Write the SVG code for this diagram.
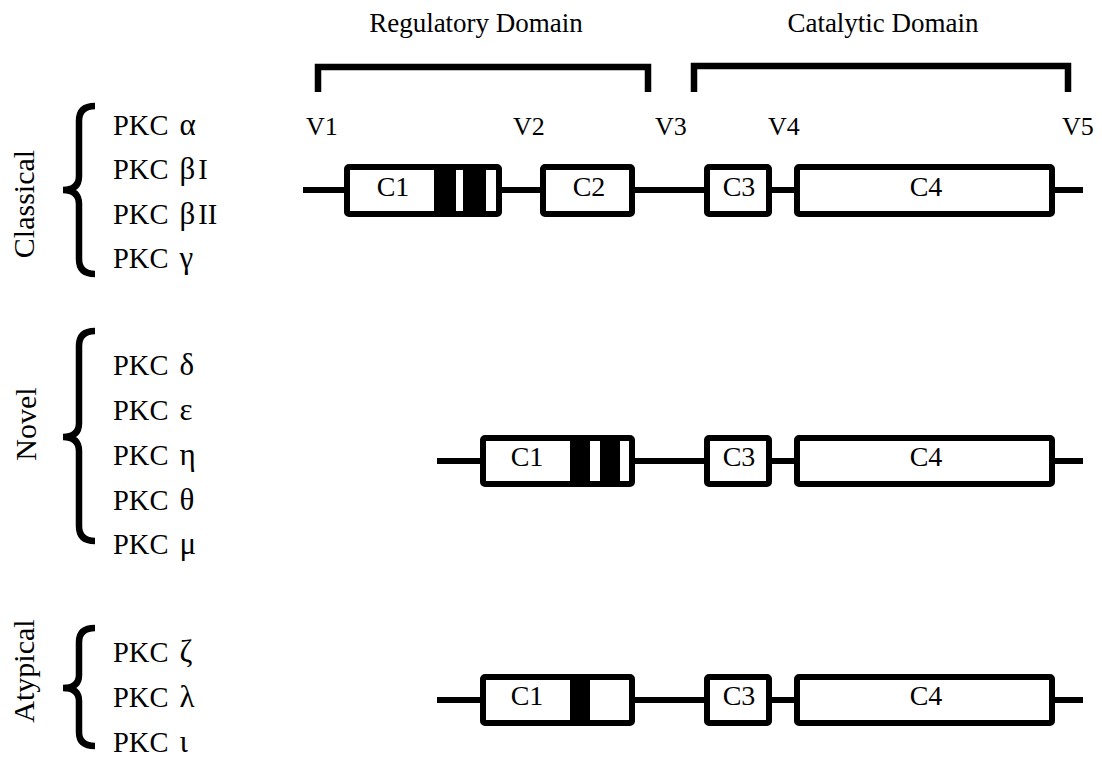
<svg xmlns="http://www.w3.org/2000/svg" width="1102" height="757" viewBox="0 0 1102 757">
<style>
  text { font-family: "Liberation Serif", "Times New Roman", serif; fill: #000; }
  .hdr { font-size: 27px; text-anchor: middle; }
  .v { font-size: 26px; }
  .pkc { font-size: 28.5px; }
  .gk { font-size: 31px; }
  .grp { font-size: 30px; text-anchor: middle; }
  .box { fill: #fff; stroke: #000; stroke-width: 6; stroke-linejoin: round; }
  .lbl { font-size: 28px; text-anchor: middle; }
  .band { fill: #000; }
  .ln { stroke: #000; stroke-width: 6; fill: none; }
  .br { stroke: #000; stroke-width: 6.5; fill: none; stroke-linejoin: miter; }
  .brace { stroke: #000; stroke-width: 6.5; fill: none; stroke-linecap: butt; }
</style>
<rect width="1102" height="757" fill="#fff"/>

<g id="domains">
  <text class="hdr" x="476" y="32">Regulatory Domain</text>
  <text class="hdr" x="883" y="32">Catalytic Domain</text>
  <path class="br" d="M318,92 V67 H648 V92"/>
  <path class="br" d="M694,92 V66 H1068 V92"/>
  <text class="v" x="306" y="135">V1</text>
  <text class="v" x="513" y="135">V2</text>
  <text class="v" x="655" y="135">V3</text>
  <text class="v" x="768" y="135">V4</text>
  <text class="v" x="1062" y="135">V5</text>
</g>

<g id="classical-group">
  <text class="grp" transform="translate(34,204) rotate(-90)">Classical</text>
  <path class="brace" d="M95,106 Q79,106 79,121 V176 Q79,190 63,190 Q79,190 79,204 V259 Q79,274 95,274"/>
  <text class="pkc" x="113" y="135">PKC <tspan class="gk" dx="4">α</tspan></text>
  <text class="pkc" x="113" y="179">PKC <tspan class="gk" dx="4">β</tspan><tspan dx="3">I</tspan></text>
  <text class="pkc" x="113" y="224">PKC <tspan class="gk" dx="4">β</tspan><tspan dx="3">II</tspan></text>
  <text class="pkc" x="113" y="268">PKC <tspan class="gk" dx="4">γ</tspan></text>
</g>

<g id="novel-group">
  <text class="grp" transform="translate(36,424) rotate(-90)">Novel</text>
  <path class="brace" d="M95,331 Q79,331 79,346 V423 Q79,437 63,437 Q79,437 79,451 V526 Q79,541 95,541"/>
  <text class="pkc" x="113" y="375">PKC <tspan class="gk" dx="4">δ</tspan></text>
  <text class="pkc" x="113" y="420">PKC <tspan class="gk" dx="4">ε</tspan></text>
  <text class="pkc" x="113" y="465">PKC <tspan class="gk" dx="4">η</tspan></text>
  <text class="pkc" x="113" y="510">PKC <tspan class="gk" dx="4">θ</tspan></text>
  <text class="pkc" x="113" y="554">PKC <tspan class="gk" dx="4">μ</tspan></text>
</g>

<g id="atypical-group">
  <text class="grp" transform="translate(34,671) rotate(-90)">Atypical</text>
  <path class="brace" d="M95,628 Q79,628 79,642 V675 Q79,688 63,688 Q79,688 79,701 V732 Q79,746 95,746"/>
  <text class="pkc" x="113" y="662">PKC <tspan class="gk" dx="4">ζ</tspan></text>
  <text class="pkc" x="113" y="707">PKC <tspan class="gk" dx="4">λ</tspan></text>
  <text class="pkc" x="113" y="752">PKC <tspan class="gk" dx="4">ι</tspan></text>
</g>

<g id="connectors">
  <line class="ln" x1="303" y1="190" x2="347" y2="190"/>
  <line class="ln" x1="499" y1="190" x2="543" y2="190"/>
  <line class="ln" x1="632" y1="190" x2="707" y2="190"/>
  <line class="ln" x1="769" y1="190" x2="797" y2="190"/>
  <line class="ln" x1="1052" y1="190" x2="1083" y2="190"/>

  <line class="ln" x1="437" y1="461" x2="483" y2="461"/>
  <line class="ln" x1="632" y1="461" x2="707" y2="461"/>
  <line class="ln" x1="769" y1="461" x2="797" y2="461"/>
  <line class="ln" x1="1052" y1="461" x2="1083" y2="461"/>

  <line class="ln" x1="437" y1="700" x2="483" y2="700"/>
  <line class="ln" x1="632" y1="700" x2="707" y2="700"/>
  <line class="ln" x1="769" y1="700" x2="797" y2="700"/>
  <line class="ln" x1="1052" y1="700" x2="1083" y2="700"/>
</g>

<g id="classical-C1">
  <rect class="box" x="347" y="167" width="152" height="47" rx="2"/>
  <rect class="band" x="434" y="167" width="22" height="47"/>
  <rect class="band" x="463" y="167" width="23" height="47"/>
  <text class="lbl" x="393" y="196">C1</text>
</g>
<g id="classical-C2">
  <rect class="box" x="543" y="167" width="89" height="47" rx="2"/>
  <text class="lbl" x="589" y="196">C2</text>
</g>
<g id="classical-C3">
  <rect class="box" x="707" y="167" width="62" height="47" rx="2"/>
  <text class="lbl" x="739" y="196">C3</text>
</g>
<g id="classical-C4">
  <rect class="box" x="797" y="167" width="255" height="47" rx="2"/>
  <text class="lbl" x="926" y="196">C4</text>
</g>

<g id="novel-C1">
  <rect class="box" x="483" y="438" width="149" height="46" rx="2"/>
  <rect class="band" x="570" y="438" width="20" height="46"/>
  <rect class="band" x="600" y="438" width="20" height="46"/>
  <text class="lbl" x="527" y="466">C1</text>
</g>
<g id="novel-C3">
  <rect class="box" x="707" y="438" width="62" height="46" rx="2"/>
  <text class="lbl" x="739" y="466">C3</text>
</g>
<g id="novel-C4">
  <rect class="box" x="797" y="438" width="255" height="46" rx="2"/>
  <text class="lbl" x="926" y="466">C4</text>
</g>

<g id="atypical-C1">
  <rect class="box" x="483" y="677" width="149" height="46" rx="2"/>
  <rect class="band" x="570" y="677" width="20" height="46"/>
  <text class="lbl" x="527" y="705">C1</text>
</g>
<g id="atypical-C3">
  <rect class="box" x="707" y="677" width="62" height="46" rx="2"/>
  <text class="lbl" x="739" y="705">C3</text>
</g>
<g id="atypical-C4">
  <rect class="box" x="797" y="677" width="255" height="46" rx="2"/>
  <text class="lbl" x="926" y="705">C4</text>
</g>
</svg>
